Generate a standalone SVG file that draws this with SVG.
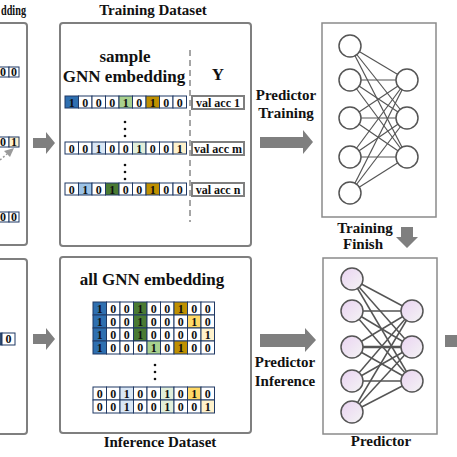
<svg xmlns="http://www.w3.org/2000/svg" width="457" height="457" viewBox="0 0 457 457">
<style>
.panel{fill:#fff;stroke:#7f7f7f;stroke-width:2}
.nnbox{fill:#fff;stroke:#8a8a8a;stroke-width:1.5}
.c{fill:#fff;stroke:#1f3864;stroke-width:1}
.t{font-family:"Liberation Serif",serif;font-weight:bold;font-size:12px;text-anchor:middle;fill:#111}
.h{font-family:"Liberation Serif",serif;font-weight:bold;font-size:15px;text-anchor:middle;fill:#111}
.hb{font-family:"Liberation Serif",serif;font-weight:bold;font-size:17px;text-anchor:middle;fill:#111}
.arr{fill:#7f7f7f}
.vb{fill:#fff;stroke:#7f7f7f;stroke-width:2}
.dot{fill:#111}
.ln{stroke:#555;stroke-width:1.2}
.ln2{stroke:#555;stroke-width:1.5}
.cw{fill:#fff;stroke:#555;stroke-width:1.5}
.cp{fill:url(#pg);stroke:#555;stroke-width:1.5}
.db{fill:#2e6fb0}.lg{fill:#a9d18e}.gd{fill:#bf9000}.lb{fill:#dae7f5}.vg{fill:#e2efda}.cr{fill:#fff2cc}.mb{fill:#9dc3e6}.dg{fill:#4a7a32}.yl{fill:#ffd966}
</style>
<defs>
<linearGradient id="pg" x1="0" y1="0" x2="1" y2="1">
<stop offset="0" stop-color="#ead3f2"/>
<stop offset="1" stop-color="#f4f4f4"/>
</linearGradient>
</defs>

<!-- left partial panels -->
<g id="left-top">
<rect class="panel" x="-10" y="23" width="37" height="222" rx="3"/>
<text class="h" x="1" y="15" style="text-anchor:start" textLength="25" lengthAdjust="spacingAndGlyphs">dding</text>
<rect class="c" x="-5" y="67" width="14" height="10"/><rect class="c" x="9" y="67" width="10" height="10"/>
<text class="t" x="3" y="76">0</text><text class="t" x="14" y="76">0</text>
<rect class="c" x="-5" y="137" width="14" height="10"/><rect class="c cr" x="9" y="137" width="10" height="10"/>
<text class="t" x="3" y="146">0</text><text class="t" x="14" y="146">1</text>
<line x1="0" y1="160" x2="7" y2="154" stroke="#9a9a9a" stroke-width="1.5" stroke-dasharray="2 2"/>
<polygon class="arr" points="14,148 4,151 10,157" style="fill:#9a9a9a"/>
<rect class="c" x="-5" y="212" width="14" height="10"/><rect class="c" x="9" y="212" width="10" height="10"/>
<text class="t" x="3" y="221">0</text><text class="t" x="14" y="221">0</text>
</g>
<g id="left-bottom">
<rect class="panel" x="-10" y="259" width="37" height="175" rx="3"/>
<rect class="c" x="-11" y="333" width="13" height="12" style="fill:#2e4a6e"/>
<rect class="c" x="2" y="333" width="13" height="12"/>
<text class="t" x="8.5" y="343">0</text>
</g>

<!-- Training dataset -->
<g id="training-dataset">
<text class="h" x="153" y="15">Training Dataset</text>
<rect class="panel" x="60" y="23" width="191" height="223" rx="3"/>
<text class="hb" x="125" y="62">sample</text>
<text class="hb" x="124" y="82">GNN embedding</text>
<text class="hb" x="218" y="80">Y</text>
<line x1="190" y1="50" x2="190" y2="222" stroke="#888" stroke-width="1.5" stroke-dasharray="6 4"/>
<g transform="translate(65,96)">
<rect class="c db" x="0" width="13.5" height="12"/><rect class="c" x="13.5" width="13.5" height="12"/><rect class="c" x="27" width="13.5" height="12"/><rect class="c" x="40.5" width="13.5" height="12"/><rect class="c lg" x="54" width="13.5" height="12"/><rect class="c" x="67.5" width="13.5" height="12"/><rect class="c gd" x="81" width="13.5" height="12"/><rect class="c" x="94.5" width="13.5" height="12"/><rect class="c" x="108" width="13.5" height="12"/>
<text class="t" y="10.5"><tspan x="6.75">1</tspan><tspan x="20.25">0</tspan><tspan x="33.75">0</tspan><tspan x="47.25">0</tspan><tspan x="60.75">1</tspan><tspan x="74.25">0</tspan><tspan x="87.75">1</tspan><tspan x="101.25">0</tspan><tspan x="114.75">0</tspan></text>
</g>
<g transform="translate(65,142)">
<rect class="c" x="0" width="13.5" height="12"/><rect class="c" x="13.5" width="13.5" height="12"/><rect class="c lb" x="27" width="13.5" height="12"/><rect class="c" x="40.5" width="13.5" height="12"/><rect class="c" x="54" width="13.5" height="12"/><rect class="c vg" x="67.5" width="13.5" height="12"/><rect class="c" x="81" width="13.5" height="12"/><rect class="c" x="94.5" width="13.5" height="12"/><rect class="c cr" x="108" width="13.5" height="12"/>
<text class="t" y="10.5"><tspan x="6.75">0</tspan><tspan x="20.25">0</tspan><tspan x="33.75">1</tspan><tspan x="47.25">0</tspan><tspan x="60.75">0</tspan><tspan x="74.25">1</tspan><tspan x="87.75">0</tspan><tspan x="101.25">0</tspan><tspan x="114.75">1</tspan></text>
</g>
<g transform="translate(65,183)">
<rect class="c" x="0" width="13.5" height="12"/><rect class="c mb" x="13.5" width="13.5" height="12"/><rect class="c" x="27" width="13.5" height="12"/><rect class="c dg" x="40.5" width="13.5" height="12"/><rect class="c" x="54" width="13.5" height="12"/><rect class="c" x="67.5" width="13.5" height="12"/><rect class="c gd" x="81" width="13.5" height="12"/><rect class="c" x="94.5" width="13.5" height="12"/><rect class="c" x="108" width="13.5" height="12"/>
<text class="t" y="10.5"><tspan x="6.75">0</tspan><tspan x="20.25">1</tspan><tspan x="33.75">0</tspan><tspan x="47.25">1</tspan><tspan x="60.75">0</tspan><tspan x="74.25">0</tspan><tspan x="87.75">1</tspan><tspan x="101.25">0</tspan><tspan x="114.75">0</tspan></text>
</g>
<circle class="dot" cx="125" cy="122" r="1.3"/><circle class="dot" cx="125" cy="129" r="1.3"/><circle class="dot" cx="125" cy="136" r="1.3"/>
<circle class="dot" cx="125" cy="165" r="1.3"/><circle class="dot" cx="125" cy="172" r="1.3"/><circle class="dot" cx="125" cy="179" r="1.3"/>
<rect class="vb" x="192" y="96" width="52" height="13"/><text class="t" x="218" y="106.5">val acc 1</text>
<rect class="vb" x="192" y="142" width="52" height="13"/><text class="t" x="218" y="152.5">val acc m</text>
<rect class="vb" x="192" y="183" width="52" height="13"/><text class="t" x="218" y="193.5">val acc n</text>
</g>

<!-- Inference dataset -->
<g id="inference-dataset">
<rect class="panel" x="60" y="257" width="191" height="176" rx="3"/>
<text class="hb" x="152" y="285">all GNN embedding</text>
<g transform="translate(93,302)">
<rect class="c db" x="0" width="13.5" height="13"/><rect class="c" x="13.5" width="13.5" height="13"/><rect class="c" x="27" width="13.5" height="13"/><rect class="c dg" x="40.5" width="13.5" height="13"/><rect class="c" x="54" width="13.5" height="13"/><rect class="c" x="67.5" width="13.5" height="13"/><rect class="c gd" x="81" width="13.5" height="13"/><rect class="c" x="94.5" width="13.5" height="13"/><rect class="c" x="108" width="13.5" height="13"/>
<text class="t" y="11"><tspan x="6.75">1</tspan><tspan x="20.25">0</tspan><tspan x="33.75">0</tspan><tspan x="47.25">1</tspan><tspan x="60.75">0</tspan><tspan x="74.25">0</tspan><tspan x="87.75">1</tspan><tspan x="101.25">0</tspan><tspan x="114.75">0</tspan></text>
</g>
<g transform="translate(93,315)">
<rect class="c db" x="0" width="13.5" height="13"/><rect class="c" x="13.5" width="13.5" height="13"/><rect class="c" x="27" width="13.5" height="13"/><rect class="c dg" x="40.5" width="13.5" height="13"/><rect class="c" x="54" width="13.5" height="13"/><rect class="c" x="67.5" width="13.5" height="13"/><rect class="c" x="81" width="13.5" height="13"/><rect class="c yl" x="94.5" width="13.5" height="13"/><rect class="c" x="108" width="13.5" height="13"/>
<text class="t" y="11"><tspan x="6.75">1</tspan><tspan x="20.25">0</tspan><tspan x="33.75">0</tspan><tspan x="47.25">1</tspan><tspan x="60.75">0</tspan><tspan x="74.25">0</tspan><tspan x="87.75">0</tspan><tspan x="101.25">1</tspan><tspan x="114.75">0</tspan></text>
</g>
<g transform="translate(93,328)">
<rect class="c db" x="0" width="13.5" height="13"/><rect class="c" x="13.5" width="13.5" height="13"/><rect class="c" x="27" width="13.5" height="13"/><rect class="c dg" x="40.5" width="13.5" height="13"/><rect class="c" x="54" width="13.5" height="13"/><rect class="c" x="67.5" width="13.5" height="13"/><rect class="c" x="81" width="13.5" height="13"/><rect class="c" x="94.5" width="13.5" height="13"/><rect class="c cr" x="108" width="13.5" height="13"/>
<text class="t" y="11"><tspan x="6.75">1</tspan><tspan x="20.25">0</tspan><tspan x="33.75">0</tspan><tspan x="47.25">1</tspan><tspan x="60.75">0</tspan><tspan x="74.25">0</tspan><tspan x="87.75">0</tspan><tspan x="101.25">0</tspan><tspan x="114.75">1</tspan></text>
</g>
<g transform="translate(93,341)">
<rect class="c db" x="0" width="13.5" height="13"/><rect class="c" x="13.5" width="13.5" height="13"/><rect class="c" x="27" width="13.5" height="13"/><rect class="c" x="40.5" width="13.5" height="13"/><rect class="c lg" x="54" width="13.5" height="13"/><rect class="c" x="67.5" width="13.5" height="13"/><rect class="c gd" x="81" width="13.5" height="13"/><rect class="c" x="94.5" width="13.5" height="13"/><rect class="c" x="108" width="13.5" height="13"/>
<text class="t" y="11"><tspan x="6.75">1</tspan><tspan x="20.25">0</tspan><tspan x="33.75">0</tspan><tspan x="47.25">0</tspan><tspan x="60.75">1</tspan><tspan x="74.25">0</tspan><tspan x="87.75">1</tspan><tspan x="101.25">0</tspan><tspan x="114.75">0</tspan></text>
</g>
<circle class="dot" cx="155" cy="365" r="1.3"/><circle class="dot" cx="155" cy="372" r="1.3"/><circle class="dot" cx="155" cy="379" r="1.3"/>
<g transform="translate(93,387)">
<rect class="c" x="0" width="13.5" height="13"/><rect class="c" x="13.5" width="13.5" height="13"/><rect class="c lb" x="27" width="13.5" height="13"/><rect class="c" x="40.5" width="13.5" height="13"/><rect class="c" x="54" width="13.5" height="13"/><rect class="c vg" x="67.5" width="13.5" height="13"/><rect class="c" x="81" width="13.5" height="13"/><rect class="c yl" x="94.5" width="13.5" height="13"/><rect class="c" x="108" width="13.5" height="13"/>
<text class="t" y="11"><tspan x="6.75">0</tspan><tspan x="20.25">0</tspan><tspan x="33.75">1</tspan><tspan x="47.25">0</tspan><tspan x="60.75">0</tspan><tspan x="74.25">1</tspan><tspan x="87.75">0</tspan><tspan x="101.25">1</tspan><tspan x="114.75">0</tspan></text>
</g>
<g transform="translate(93,400)">
<rect class="c" x="0" width="13.5" height="13"/><rect class="c" x="13.5" width="13.5" height="13"/><rect class="c lb" x="27" width="13.5" height="13"/><rect class="c" x="40.5" width="13.5" height="13"/><rect class="c" x="54" width="13.5" height="13"/><rect class="c vg" x="67.5" width="13.5" height="13"/><rect class="c" x="81" width="13.5" height="13"/><rect class="c" x="94.5" width="13.5" height="13"/><rect class="c cr" x="108" width="13.5" height="13"/>
<text class="t" y="11"><tspan x="6.75">0</tspan><tspan x="20.25">0</tspan><tspan x="33.75">1</tspan><tspan x="47.25">0</tspan><tspan x="60.75">0</tspan><tspan x="74.25">1</tspan><tspan x="87.75">0</tspan><tspan x="101.25">0</tspan><tspan x="114.75">1</tspan></text>
</g>
<text class="h" x="160" y="447">Inference Dataset</text>
</g>

<!-- Predictor (training) -->
<g id="predictor-training">
<rect class="nnbox" x="322" y="23" width="114" height="194"/>
<g class="ln">
<line x1="350" y1="46" x2="407" y2="80"/><line x1="350" y1="46" x2="407" y2="118"/><line x1="350" y1="46" x2="407" y2="157"/>
<line x1="350" y1="80" x2="407" y2="80"/><line x1="350" y1="80" x2="407" y2="118"/><line x1="350" y1="80" x2="407" y2="157"/>
<line x1="350" y1="118" x2="407" y2="80"/><line x1="350" y1="118" x2="407" y2="118"/><line x1="350" y1="118" x2="407" y2="157"/>
<line x1="350" y1="157" x2="407" y2="80"/><line x1="350" y1="157" x2="407" y2="118"/><line x1="350" y1="157" x2="407" y2="157"/>
<line x1="350" y1="193" x2="407" y2="80"/><line x1="350" y1="193" x2="407" y2="118"/><line x1="350" y1="193" x2="407" y2="157"/>
</g>
<circle class="cw" cx="350" cy="46" r="11"/><circle class="cw" cx="350" cy="80" r="11"/><circle class="cw" cx="350" cy="118" r="11"/><circle class="cw" cx="350" cy="157" r="11"/><circle class="cw" cx="350" cy="193" r="11"/>
<circle class="cw" cx="407" cy="80" r="11"/><circle class="cw" cx="407" cy="118" r="11"/><circle class="cw" cx="407" cy="157" r="11"/>
</g>

<!-- Predictor (inference) -->
<g id="predictor">
<rect class="nnbox" x="323" y="258" width="114" height="176"/>
<g class="ln2">
<line x1="352" y1="279" x2="412" y2="311"/><line x1="352" y1="279" x2="412" y2="347"/><line x1="352" y1="279" x2="412" y2="381"/>
<line x1="352" y1="311" x2="412" y2="311"/><line x1="352" y1="311" x2="412" y2="347"/><line x1="352" y1="311" x2="412" y2="381"/>
<line x1="352" y1="347" x2="412" y2="311"/><line x1="352" y1="347" x2="412" y2="347" stroke-width="2.5"/><line x1="352" y1="347" x2="412" y2="381"/>
<line x1="352" y1="381" x2="412" y2="311"/><line x1="352" y1="381" x2="412" y2="347"/><line x1="352" y1="381" x2="412" y2="381"/>
<line x1="352" y1="412" x2="412" y2="311"/><line x1="352" y1="412" x2="412" y2="347"/><line x1="352" y1="412" x2="412" y2="381"/>
</g>
<circle class="cp" cx="352" cy="279" r="11"/><circle class="cp" cx="352" cy="311" r="11"/><circle class="cp" cx="352" cy="347" r="11"/><circle class="cp" cx="352" cy="381" r="11"/><circle class="cp" cx="352" cy="412" r="11"/>
<circle class="cp" cx="412" cy="311" r="11"/><circle class="cp" cx="412" cy="347" r="11"/><circle class="cp" cx="412" cy="381" r="11"/>
<text class="h" x="381" y="446">Predictor</text>
</g>

<!-- connectors -->
<g id="connectors">
<path class="arr" d="M33,138 H46 V132 L55,143 L46,154 V148 H33 Z"/>
<path class="arr" d="M33,334 H46 V328 L55,339 L46,350 V344 H33 Z"/>
<path class="arr" d="M260,137 H303 V130 L313,142 L303,154 V148 H260 Z"/>
<path class="arr" d="M260,334 H305 V328 L316,340 L305,352 V347 H260 Z"/>
<path class="arr" d="M401,227 H413 V237 H418 L407,248 L396,237 H401 Z"/>
<rect class="arr" x="445" y="335" width="15" height="12"/>
<text class="h" x="286" y="100">Predictor</text>
<text class="h" x="286" y="118">Training</text>
<text class="h" x="365" y="233">Training</text>
<text class="h" x="363" y="249">Finish</text>
<text class="h" x="285" y="367">Predictor</text>
<text class="h" x="285" y="386">Inference</text>
</g>
</svg>
